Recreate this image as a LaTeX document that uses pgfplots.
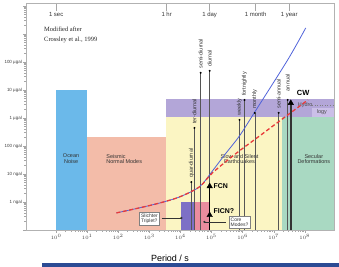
\documentclass[border=0pt]{standalone}
\usepackage{pgfplots}
\pgfplotsset{compat=1.18}
\usepackage{fontspec}
\setmainfont{Liberation Sans}
\newfontfamily\seriffont{Liberation Serif}
\newcommand{\fs}[1]{\fontsize{#1}{#1}\selectfont}
\definecolor{oceanblue}{HTML}{6BB9EA}
\definecolor{salmonr}{HTML}{F3BCA9}
\definecolor{yellowr}{HTML}{FBF5C3}
\definecolor{lavender}{HTML}{B3A6D8}
\definecolor{lavlight}{HTML}{CBBFE8}
\definecolor{greenr}{HTML}{A9D9C2}
\definecolor{purplebox}{HTML}{7D70C6}
\definecolor{pinkbox}{HTML}{EA8C9E}
\definecolor{bluecurve}{HTML}{4F62DA}
\definecolor{redcurve}{HTML}{E83A3A}
\definecolor{barblue}{HTML}{2C4B94}
\definecolor{tidegray}{HTML}{555555}
\tikzset{
  tlab/.style={rotate=90, anchor=west, font=\fs{5.5}, text=black!80, inner sep=0pt},
  rlab/.style={font=\fs{5.5}, text=black!80, align=center, inner sep=0pt}}

\begin{document}
\begin{tikzpicture}[x=1bp,y=1bp]
\path[use as bounding box] (-26,-37) rectangle (313,230);
\begin{axis}[at={(0,0)}, anchor=south west, scale only axis,
  width=308bp, height=227bp,
  xmin=-0.97, xmax=8.94, ymin=-1, ymax=7.1,
  hide axis, clip=false,
  tide/.style={tidegray, line width=0.5pt, mark=*, mark size=0.7pt,
    mark options={fill=black, draw=black}, mark indices={2}}]
% regions
\addplot[draw=none, fill=oceanblue] coordinates {(0,-1) (1,-1) (1,4) (0,4)} -- cycle;
\addplot[draw=none, fill=salmonr] coordinates {(1,-1) (3.55,-1) (3.55,2.32) (1,2.32)} -- cycle;
\addplot[draw=none, fill=yellowr] coordinates {(3.55,-1) (7.26,-1) (7.26,3.04) (3.55,3.04)} -- cycle;
\addplot[draw=none, fill=greenr] coordinates {(7.26,-1) (8.94,-1) (8.94,3.04) (7.26,3.04)} -- cycle;
\addplot[draw=none, fill=lavender] coordinates {(3.55,3.04) (8.94,3.04) (8.94,3.68) (3.55,3.68)} -- cycle;
\addplot[draw=none, fill=lavlight] coordinates {(8.23,3.04) (8.94,3.04) (8.94,3.36) (8.23,3.36)} -- cycle;
\addplot[draw=none, fill=purplebox] coordinates {(4.03,-1) (4.45,-1) (4.45,0) (4.03,0)} -- cycle;
\addplot[draw=none, fill=pinkbox] coordinates {(4.45,-1) (4.94,-1) (4.94,0) (4.45,0)} -- cycle;
% region labels
\node[rlab] at (0.48,1.54) {Ocean\\Noise};
\node[rlab, anchor=west, align=left] at (1.61,1.54) {Seismic\\Normal Modes};
\node[rlab] at (5.90,1.52) {Slow and Silent\\Earthquakes};
\node[rlab] at (8.29,1.54) {Secular\\Deformations};
% tidal lines
\addplot[tide] coordinates {(4.35,-1) (4.35,0.71)};
\addplot[tide] coordinates {(4.45,-1) (4.45,2.64)};
\addplot[tide] coordinates {(4.65,-1) (4.65,4.61)};
\addplot[tide] coordinates {(4.94,-1) (4.94,4.68)};
\addplot[tide] coordinates {(5.90,-1) (5.90,2.93)};
\addplot[tide] coordinates {(6.06,-1) (6.06,3.64)};
\addplot[tide] coordinates {(6.39,-1) (6.39,3.18)};
\addplot[tide] coordinates {(7.16,-1) (7.16,3.18)};
\addplot[tide] coordinates {(7.45,-1) (7.45,3.64)};
\node[tlab] at (4.35,0.85) {quar-diurnal};
\node[tlab] at (4.45,2.78) {ter-diurnal};
\node[tlab] at (4.65,4.75) {semi-diurnal};
\node[tlab] at (4.94,4.82) {diurnal};
\node[tlab] at (5.90,3.07) {weekly};
\node[tlab] at (6.06,3.78) {fortnightly};
\node[tlab] at (6.39,3.32) {monthly};
\node[tlab] at (7.16,3.32) {semi-annual};
\node[tlab] at (7.45,3.95) {annual};
% hydrology
\addplot[gray, dotted, line width=0.6pt] coordinates {(8.23,3.45) (8.94,3.45)};
\node[font=\fs{5.5}, text=black!70, anchor=west, inner sep=0pt] at (7.77,3.45) {Hydro};
\node[font=\fs{5.5}, text=black!70, inner sep=0pt] at (8.55,3.2) {logy};
% curves
\addplot[bluecurve, line width=0.8pt, smooth] coordinates {
 (1.94,-0.39) (2.68,-0.21) (3.32,-0.04) (3.97,0.18) (4.61,0.54) (5.03,1.11)
 (5.42,1.68) (5.90,2.36) (6.39,3.21) (7.45,5.07) (8.03,6.21)};
\addplot[redcurve, line width=1.3pt, dash pattern=on 4pt off 2.5pt, smooth] coordinates {
 (1.94,-0.39) (2.68,-0.21) (3.32,-0.04) (3.97,0.18) (4.61,0.54) (5.03,1.04)
 (5.81,1.75) (6.55,2.36) (7.19,2.89) (8.10,3.64)};
% FCN / FICN
\addplot[black, line width=1.2pt] coordinates {(4.94,-1) (4.94,0.55)};
\addplot[only marks, mark=triangle*, mark size=3.2pt, black] coordinates {(4.94,0.56) (4.94,-0.47)};
\node[font=\fs{7}\bfseries, anchor=west, inner sep=0pt] at (5.06,0.57) {FCN};
\node[font=\fs{7}\bfseries, anchor=west, inner sep=0pt] at (5.06,-0.32) {FICN?};
% CW
\addplot[black!80, line width=1.5pt] coordinates {(7.55,-1) (7.55,3.5)};
\addplot[only marks, mark=triangle*, mark size=3.2pt, black] coordinates {(7.55,3.53)};
\node[font=\fs{7.5}\bfseries, anchor=west, inner sep=0pt] at (7.74,3.89) {CW};
% Slichter / core
\addplot[black!80, line width=0.5pt, mark=*, mark size=0.8pt, mark indices={2}] coordinates {(3.39,-0.57) (4.03,-0.57)};
\addplot[black!80, line width=0.5pt, mark=*, mark size=0.8pt, mark indices={1}] coordinates {(4.77,-0.71) (5.48,-0.71)};
\node[draw=gray, fill=white, font=\fs{5}, text=black!80, align=left, inner sep=1.5pt] at (3.0,-0.59) {Slichter\\Triplet?};
\node[draw=gray, fill=white, font=\fs{5}, text=black!80, align=left, inner sep=1.5pt] at (5.9,-0.73) {Core\\Modes?};
% top time marks
\draw[gray!70] (0,7.1) -- (0,6.82);
\draw[gray!70] (3.556,7.1) -- (3.556,6.82);
\draw[gray!70] (4.937,7.1) -- (4.937,6.82);
\draw[gray!70] (6.42,7.1) -- (6.42,6.82);
\draw[gray!70] (7.50,7.1) -- (7.50,6.82);
\node[font=\fs{6}, text=black!80] at (0,6.68) {1 sec};
\node[font=\fs{6}, text=black!80] at (3.556,6.68) {1 hr};
\node[font=\fs{6}, text=black!80] at (4.937,6.68) {1 day};
\node[font=\fs{6}, text=black!80] at (6.42,6.68) {1 month};
\node[font=\fs{6}, text=black!80] at (7.50,6.68) {1 year};
\node[font=\seriffont\fs{6.5}, text=black!85, anchor=base west, inner sep=0pt] at (-0.39,6.07) {Modified after};
\node[font=\seriffont\fs{6.5}, text=black!85, anchor=base west, inner sep=0pt] at (-0.39,5.71) {Crossley et al., 1999};
\end{axis}
\begin{axis}[at={(0,0)}, anchor=south west, scale only axis,
  width=308bp, height=227bp,
  xmode=log, ymode=log,
  xmin=0.1072, xmax=8.71e8, ymin=0.1, ymax=1.259e7,
  axis line style={draw=gray!60, line width=0.6pt},
  tick style={gray!70, line width=0.4pt},
  major tick length=3bp, minor tick length=1.8bp,
  tick align=outside, tick pos=left,
  xtick={1,10,100,1000,1e4,1e5,1e6,1e7,1e8},
  ytick={0.1,1,10,100,1000,1e4,1e5,1e6,1e7},
  yticklabels={,1 ngal,10 ngal,100 ngal,1 µgal,10 µgal,100 µgal,,},
  ticklabel style={font=\fs{4.5}, text=black!75},
  xticklabel style={inner sep=1pt},
  yticklabel style={inner sep=1pt},
  xlabel={Period / s},
  xlabel style={at={(axis description cs:0.4675,0)}, anchor=base, yshift=-31bp, font=\fs{9}}]
\addplot[draw=none] coordinates {(1,1)};
\end{axis}
\fill[barblue] (16,-33) rectangle (313,-37);
\end{tikzpicture}
\end{document}
